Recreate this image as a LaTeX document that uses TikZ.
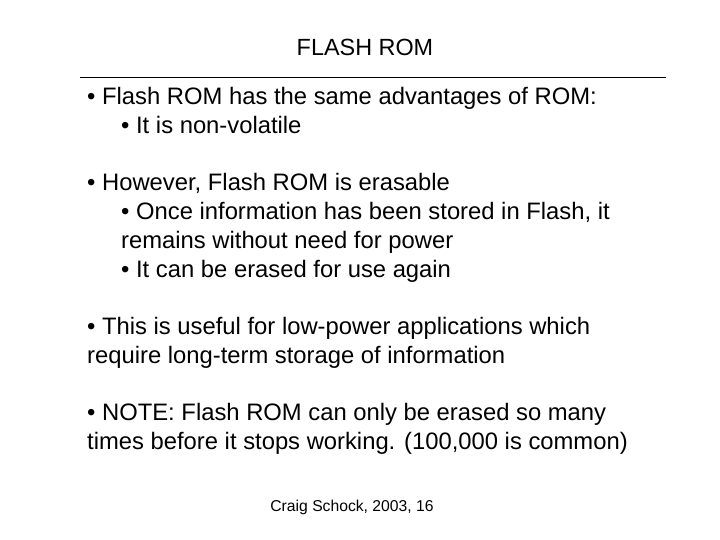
\documentclass[tikz,border=0pt]{standalone}
\usepackage{fontspec}
\setmainfont{Liberation Sans}
\begin{document}
\begin{tikzpicture}[x=1pt,y=-1pt,
  txt/.style={anchor=base west,inner sep=0pt,font=\fontsize{23.8}{28}\selectfont}]
\useasboundingbox (0,0) rectangle (720,540);
\node[anchor=base,inner sep=0pt,font=\fontsize{23.4}{28}\selectfont] (title) at (365,56) {FLASH ROM};
\coordinate (l1) at (80,77); \coordinate (l2) at (666,77);
\draw[line width=0.8pt] (l1) -- (l2);
\node[txt] (a1) at (87,105) {• Flash ROM has the same advantages of ROM:};
\node[txt] (a2) at (121,134) {• It is non-volatile};
\node[txt] (b1) at (87,191) {• However, Flash ROM is erasable};
\node[txt] (b2) at (121,220) {• Once information has been stored in Flash, it};
\node[txt] (b3) at (121,248) {remains without need for power};
\node[txt] (b4) at (121,277) {• It can be erased for use again};
\node[txt] (c1) at (87,334) {• This is useful for low-power applications which};
\node[txt] (c2) at (87,363) {require long-term storage of information};
\node[txt] (d1) at (87,420) {• NOTE: Flash ROM can only be erased so many};
\node[txt] (d2) at (87,449) {times before it stops working. (100,000 is common)};
\node[anchor=base,inner sep=0pt,font=\fontsize{15.7}{18}\selectfont] (foot) at (352,511) {Craig Schock, 2003, 16};
\end{tikzpicture}
\end{document}
